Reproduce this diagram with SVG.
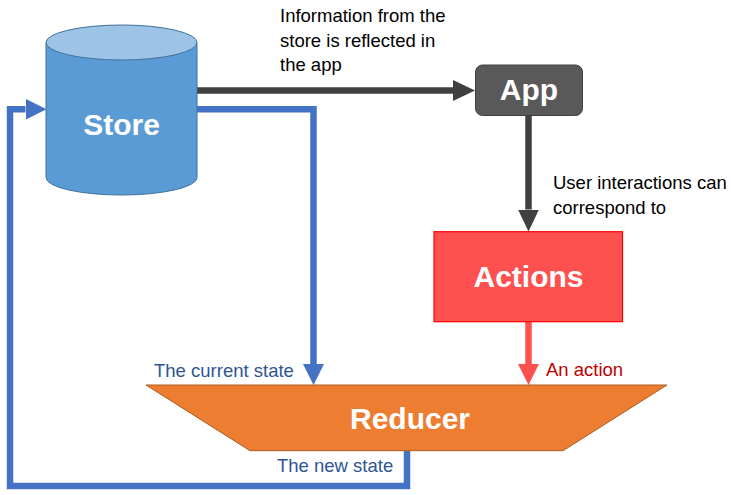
<svg xmlns="http://www.w3.org/2000/svg" width="733" height="495" viewBox="0 0 733 495">
<defs>
<style>
.lbl{font-family:"Liberation Sans",Arial,sans-serif;font-size:18.5px;fill:#000}
.big{font-family:"Liberation Sans",Arial,sans-serif;font-size:30px;font-weight:bold;fill:#fff;text-anchor:middle}
.dark{fill:none;stroke:#404040;stroke-width:6.5}
.blue{fill:none;stroke:#4472C4;stroke-width:6.5}
.red{fill:none;stroke:#FF5050;stroke-width:6.5}
</style>
<marker id="ah-dark" viewBox="0 0 22 21" refX="0" refY="10.5" markerWidth="22" markerHeight="21" markerUnits="userSpaceOnUse" orient="auto"><path d="M0,0 L22,10.5 L0,21 Z" fill="#404040"/></marker>
<marker id="ah-blue" viewBox="0 0 21 21" refX="0" refY="10.5" markerWidth="21" markerHeight="21" markerUnits="userSpaceOnUse" orient="auto"><path d="M0,0 L21,10.5 L0,21 Z" fill="#4472C4"/></marker>
<marker id="ah-red" viewBox="0 0 21 21" refX="0" refY="10.5" markerWidth="21" markerHeight="21" markerUnits="userSpaceOnUse" orient="auto"><path d="M0,0 L21,10.5 L0,21 Z" fill="#FF5050"/></marker>
</defs>
<rect width="733" height="495" fill="#fff"/>
<g id="connectors">
<path class="dark" d="M197,90.5 H453" marker-end="url(#ah-dark)"/>
<path class="dark" d="M528.5,116 V209.5" marker-end="url(#ah-dark)"/>
<path class="blue" d="M197,109.3 H313.5 V364" marker-end="url(#ah-blue)"/>
<path class="red" d="M528.5,322 V364" marker-end="url(#ah-red)"/>
<path class="blue" d="M407,451 V486 H10 V109.3 H25.5" marker-end="url(#ah-blue)"/>
</g>
<g id="store">
<path d="M46,42.5 V177.5 A75.5,17.5 0 0 0 197,177.5 V42.5 Z" fill="#5B9BD5" stroke="#41719C" stroke-width="1"/>
<ellipse cx="121.5" cy="42.5" rx="75.5" ry="17.5" fill="#9DC3E6" stroke="#41719C" stroke-width="1"/>
<text class="big" x="121.5" y="135">Store</text>
</g>
<g id="app">
<rect x="475.5" y="65" width="107" height="50.5" rx="7" fill="#595959" stroke="#404040" stroke-width="1"/>
<text class="big" x="529" y="100">App</text>
</g>
<g id="actions">
<rect x="434" y="231.7" width="188.5" height="90" fill="#FF5050" stroke="#FF0000" stroke-width="1.2"/>
<text class="big" x="528.5" y="287">Actions</text>
</g>
<g id="reducer">
<polygon points="146,385 667,385 563,450.7 250,450.7" fill="#ED7D31" stroke="#AE5A21" stroke-width="1"/>
<text class="big" x="410" y="428.5">Reducer</text>
</g>
<g id="labels">
<text class="lbl" x="280" y="22">Information from the</text>
<text class="lbl" x="280" y="46.5">store is reflected in</text>
<text class="lbl" x="280" y="71">the app</text>
<text class="lbl" x="553" y="189">User interactions can</text>
<text class="lbl" x="553" y="214">correspond to</text>
<text class="lbl" x="154" y="377" style="fill:#2F5597">The current state</text>
<text class="lbl" x="546" y="376" style="fill:#C00000">An action</text>
<text class="lbl" x="277" y="471.5" style="fill:#2F5597">The new state</text>
</g>
</svg>
